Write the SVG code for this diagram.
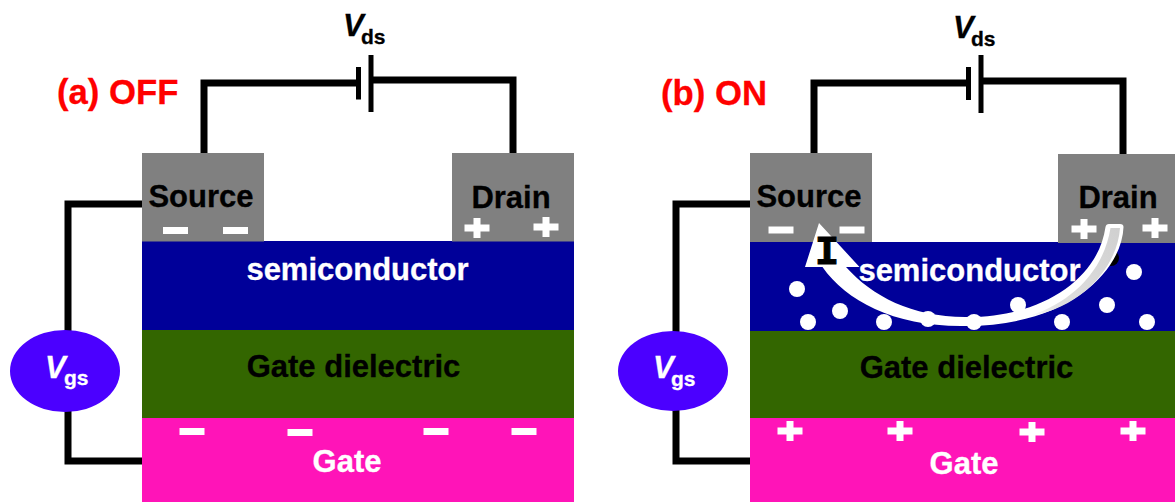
<svg xmlns="http://www.w3.org/2000/svg" width="1175" height="502" viewBox="0 0 1175 502">
<defs>
<style>
text{font-family:"Liberation Sans",Arial,sans-serif;font-weight:bold;font-size:31px;text-anchor:middle}
.w{fill:#fff;stroke:#fff;stroke-width:.3}.k{fill:#000;stroke:#000;stroke-width:.3}
.t{fill:#f00;stroke:#f00;stroke-width:.3;font-size:34.7px;text-anchor:start}
.v{font-size:31px;font-style:italic;text-anchor:start}
.s{font-size:21px;text-anchor:start}
.wire{fill:none;stroke:#000;stroke-width:7;stroke-linejoin:miter}
.plate{fill:none;stroke:#000;stroke-width:5}
.metal{fill:#808080}.semi{fill:#009}.diel{fill:#360}.gate{fill:#ff14b8}.vs{fill:#4b00ff}
.e{fill:#fff}
</style>
<linearGradient id="tail" gradientUnits="userSpaceOnUse" x1="1116" y1="226" x2="1030" y2="318">
<stop offset="0" stop-color="#d0d0d0"/><stop offset="0.8" stop-color="#e0e0e0"/><stop offset="1" stop-color="#fff"/>
</linearGradient>
<path id="minus" d="M-12.5-3.5h25v7h-25z" fill="#fff"/>
<path id="plus" d="M-12.5-3.5h9v-6.5h7v6.5h9v7h-9v6.5h-7v-6.5h-9z" fill="#fff"/>
</defs>
<rect width="1175" height="502" fill="#fff"/>
<g id="connectors">
<path class="wire" d="M204 156V83H358M371 80H513V156"/>
<path class="wire" d="M144 204H68V461H144"/>
<path class="plate" d="M358.500 67V99.500M371 55V112"/>
<path class="wire" d="M814 156V83H968M981 81H1123V156"/>
<path class="wire" d="M752 204H676V461H752"/>
<path class="plate" d="M968.500 67V100M981 55V113"/>
</g>
<g id="a-title"><text class="t" x="57" y="104">(a) OFF</text></g>
<g id="a-vds"><text class="v k" x="343" y="36">V</text><text class="s k" x="361" y="44">ds</text></g>
<g id="a-semiconductor"><rect class="semi" x="142" y="241" width="432" height="89"/><text class="w" x="357.500" y="280">semiconductor</text></g>
<g id="a-source"><rect class="metal" x="142" y="153" width="122" height="88.500"/><text class="k" x="201" y="207">Source</text><use href="#minus" x="175.500" y="230.500"/><use href="#minus" x="235.500" y="230.500"/></g>
<g id="a-drain"><rect class="metal" x="452" y="153" width="122" height="88.500"/><text class="k" x="511" y="208">Drain</text><use href="#plus" x="477" y="228"/><use href="#plus" x="546" y="227"/></g>
<g id="a-dielectric"><rect class="diel" x="142" y="330" width="432" height="88"/><text class="k" x="353.500" y="377">Gate dielectric</text></g>
<g id="a-gate"><rect class="gate" x="142" y="418" width="432" height="84"/><text class="w" x="347" y="472">Gate</text><use href="#minus" x="192" y="431.500"/><use href="#minus" x="300" y="432.500"/><use href="#minus" x="436" y="431.500"/><use href="#minus" x="524" y="431.500"/></g>
<g id="a-vgs"><ellipse class="vs" cx="65" cy="371" rx="55" ry="41"/><text class="v w" x="45" y="378">V</text><text class="s w" x="64" y="385">gs</text></g>

<g id="b-title"><text class="t" x="661" y="105">(b) ON</text></g>
<g id="b-vds"><text class="v k" x="953" y="38">V</text><text class="s k" x="971" y="46">ds</text></g>
<g id="b-semiconductor"><rect class="semi" x="750" y="242" width="425" height="89"/><text class="w" x="969.500" y="281">semiconductor</text></g>
<g id="b-source"><rect class="metal" x="750" y="153" width="122" height="89"/><text class="k" x="809" y="207">Source</text><use href="#minus" x="781" y="230"/><use href="#minus" x="852" y="230"/></g>
<g id="b-drain"><rect class="metal" x="1058" y="154" width="117" height="89"/><text class="k" x="1118" y="208">Drain</text><use href="#plus" x="1084" y="229"/><use href="#plus" x="1155" y="228"/></g>
<g id="b-dielectric"><rect class="diel" x="750" y="331" width="425" height="87"/><text class="k" x="966.500" y="378">Gate dielectric</text></g>
<g id="b-gate"><rect class="gate" x="750" y="418" width="425" height="84"/><text class="w" x="964" y="474">Gate</text><use href="#plus" x="790" y="431"/><use href="#plus" x="900" y="431"/><use href="#plus" x="1032" y="432"/><use href="#plus" x="1133" y="431"/></g>
<g id="b-vgs"><ellipse class="vs" cx="673" cy="371" rx="55" ry="40"/><text class="v w" x="653" y="378">V</text><text class="s w" x="671" y="386">gs</text></g>
<g id="b-electrons">
<circle cx="1111" cy="258" r="8" fill="#000"/>
<circle class="e" cx="797" cy="289" r="8"/><circle class="e" cx="808" cy="322" r="8"/><circle class="e" cx="840" cy="311" r="8"/><circle class="e" cx="884" cy="322" r="8"/><circle class="e" cx="1018" cy="305" r="8"/><circle class="e" cx="1062" cy="322" r="8"/><circle class="e" cx="1107" cy="305" r="8"/><circle class="e" cx="1147" cy="322" r="8"/><circle class="e" cx="1134" cy="272" r="8"/>
</g>
<g id="b-current">
<path fill="#fff" d="M819 223L805 267H822.500C846 301 895 327 965 326C1070 326 1122 270 1123.500 227Q1123.500 224 1120 224H1109Q1106 224 1105.500 227C1098 280 1040 318 965 317C912 317 872 296 846 267H859.500Z"/>
<path fill="url(#tail)" d="M1110.500 228H1120C1117 270 1078 310 1025 317C1066 306 1103 275 1110.500 228Z"/>
<text x="827" y="264" style="font-family:'Liberation Mono',monospace;font-size:40px;fill:#000;stroke:#000;stroke-width:1">I</text>
<circle class="e" cx="928" cy="319" r="8"/><circle class="e" cx="974" cy="322" r="8"/>
</g>
</svg>
